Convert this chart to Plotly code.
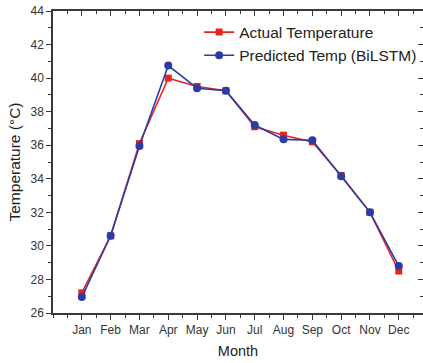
import plotly.graph_objects as go

months = ["Jan", "Feb", "Mar", "Apr", "May", "Jun", "Jul", "Aug", "Sep", "Oct", "Nov", "Dec"]
month_pos = list(range(1, 13))
actual_temp = [27.2, 30.6, 36.1, 40.0, 39.5, 39.25, 37.1, 36.6, 36.2, 34.2, 32.0, 28.5]
predicted_temp = [26.95, 30.6, 35.95, 40.75, 39.4, 39.25, 37.2, 36.35, 36.3, 34.15, 32.0, 28.8]

RED = "#E8251F"
BLUE = "#2B3CA6"
AXIS = "#3a3a3a"
FONT = "Liberation Sans, Arial, sans-serif"

fig = go.Figure()
fig.add_trace(go.Scatter(
    x=month_pos, y=actual_temp, mode="lines+markers", name="Actual Temperature",
    line=dict(color=RED, width=1.6),
    marker=dict(symbol="square", size=7, color=RED),
))
fig.add_trace(go.Scatter(
    x=month_pos, y=predicted_temp, mode="lines+markers", name="Predicted Temp (BiLSTM)",
    line=dict(color=BLUE, width=1.6),
    marker=dict(symbol="circle", size=8, color=BLUE),
))

xr = [0, 12.84]
yr = [26, 44]

fig.update_layout(
    width=423, height=363,
    margin=dict(l=53, r=0, t=11, b=50),
    paper_bgcolor="white", plot_bgcolor="white",
    font=dict(family=FONT, color="#333333", size=12),
    showlegend=True,
    legend=dict(
        x=0.395, y=0.985, xanchor="left", yanchor="top",
        bgcolor="rgba(0,0,0,0)", font=dict(size=15.5, color="#222222"),
        itemwidth=30, tracegroupgap=0,
    ),
    xaxis=dict(
        range=xr, tickvals=month_pos, ticktext=months,
        showline=True, linecolor=AXIS, linewidth=1.5,
        ticks="outside", ticklen=5, tickwidth=1.2, tickcolor=AXIS,
        minor=dict(dtick=0.5, tick0=0, ticks="outside", ticklen=3, tickcolor=AXIS),
        showgrid=False, zeroline=False,
        title=dict(text="Month", font=dict(size=14.5, color="#222222"), standoff=10),
        tickfont=dict(size=12, color="#333333"),
    ),
    yaxis=dict(
        range=yr, dtick=2, tick0=26,
        showline=True, linecolor=AXIS, linewidth=1.5,
        ticks="outside", ticklen=5, tickwidth=1.2, tickcolor=AXIS,
        minor=dict(dtick=1, ticks="outside", ticklen=3, tickcolor=AXIS),
        showgrid=False, zeroline=False,
        title=dict(text="Temperature (°C)", font=dict(size=15.5, color="#222222"), standoff=6),
        tickfont=dict(size=12, color="#333333"),
    ),
    xaxis2=dict(
        range=xr, overlaying="x", side="top",
        tickvals=month_pos, showticklabels=False,
        showline=True, linecolor=AXIS, linewidth=1.5,
        ticks="inside", ticklen=5, tickwidth=1.2, tickcolor=AXIS,
        minor=dict(dtick=0.5, tick0=0, ticks="inside", ticklen=3, tickcolor=AXIS),
        showgrid=False, zeroline=False,
    ),
    yaxis2=dict(
        range=yr, overlaying="y", side="right", dtick=2, tick0=26,
        showticklabels=False,
        showline=True, linecolor=AXIS, linewidth=1.5,
        ticks="inside", ticklen=5, tickwidth=1.2, tickcolor=AXIS,
        minor=dict(dtick=1, ticks="inside", ticklen=3, tickcolor=AXIS),
        showgrid=False, zeroline=False,
    ),
)

# Invisible trace to bring the mirrored top/right axes into the layout
fig.add_trace(go.Scatter(x=[None], y=[None], xaxis="x2", yaxis="y2",
                         showlegend=False, hoverinfo="skip"))

fig.write_html("out.html")
